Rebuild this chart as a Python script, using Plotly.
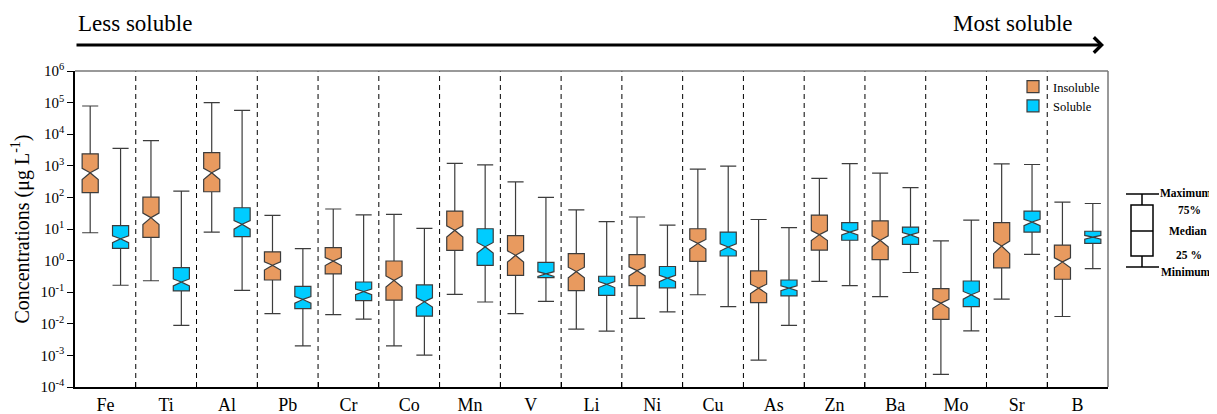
import numpy as np
import plotly.graph_objects as go

# ---------------- data (µg L-1) ----------------
elements = ["Fe", "Ti", "Al", "Pb", "Cr", "Co", "Mn", "V", "Li", "Ni",
            "Cu", "As", "Zn", "Ba", "Mo", "Sr", "B"]

ins_max = [7.8e4, 6300, 1.0e5, 27, 43, 29, 1200, 310, 40, 24,
           790, 20, 400, 590, 4.2, 1150, 71]
ins_q3 = [2400, 102, 2630, 1.9, 2.57, 0.97, 37, 6.2, 1.66, 1.55,
          10.2, 0.47, 27.5, 18.2, 0.129, 15.8, 3.1]
ins_med = [600, 22.9, 600, 0.71, 0.97, 0.237, 9.1, 1.47, 0.45, 0.48,
           3.5, 0.135, 6.6, 4.4, 0.045, 2.9, 0.91]
ins_q1 = [141, 5.4, 151, 0.243, 0.38, 0.056, 2.11, 0.34, 0.112, 0.162,
          0.95, 0.047, 2.16, 1.07, 0.0138, 0.59, 0.257]
ins_min = [7.6, 0.23, 8.0, 0.021, 0.0195, 0.0020, 0.085, 0.021, 0.0068, 0.0148,
           0.083, 0.00071, 0.22, 0.072, 0.00025, 0.060, 0.017]

sol_max = [3550, 158, 5.7e4, 2.4, 28, 10.5, 1070, 100, 17, 13.2,
           980, 11, 1170, 204, 19, 1100, 64]
sol_q3 = [12.7, 0.60, 47, 0.153, 0.21, 0.17, 10.2, 0.88, 0.32, 0.65,
          8.0, 0.243, 15.8, 11.5, 0.226, 37, 8.5]
sol_med = [4.9, 0.21, 14.1, 0.059, 0.105, 0.050, 2.75, 0.38, 0.178, 0.28,
           2.7, 0.135, 8.0, 6.5, 0.083, 16.6, 5.5]
sol_q1 = [2.44, 0.11, 5.7, 0.030, 0.054, 0.0174, 0.71, 0.29, 0.079, 0.138,
          1.4, 0.076, 4.4, 3.27, 0.035, 8.0, 3.5]
sol_min = [0.166, 0.0089, 0.115, 0.0020, 0.0141, 0.00102, 0.049, 0.051, 0.0059, 0.024,
           0.035, 0.0089, 0.162, 0.42, 0.0060, 1.58, 0.56]

y_exponents = list(range(-4, 7))
y_ticktext = ["10<sup>%d</sup>" % k for k in y_exponents]

# ---------------- styling ----------------
SERIF = "Liberation Serif, Times New Roman, serif"
C_INS = "#E89A5F"
C_SOL = "#00CCFF"
EDGE = "#3c3c3c"

OFF = 8                      # page body margin in the browser
W, H = 1217 - OFF, 414 - OFF
# plot area in window pixels: x 75..1108, y 71..387
L, R, T, B = 75 - OFF, 1217 - 1108, 71 - OFF, 414 - 387
PW, PH = W - L - R, H - T - B


def px(x):      # window pixel -> paper x
    return (x - OFF - L) / PW


def py(y):      # window pixel -> paper y
    return (H - B - (y - OFF)) / PH


def notch(q1, med, q3):
    q1, med, q3 = map(np.asarray, (q1, med, q3))
    h = 0.17 * (np.log10(q3) - np.log10(q1))
    return [float(v) for v in med * (1 - 10 ** (-h))]


fig = go.Figure()
for name, col, mx, q3, md, q1, mn in [
    ("Insoluble", C_INS, ins_max, ins_q3, ins_med, ins_q1, ins_min),
    ("Soluble", C_SOL, sol_max, sol_q3, sol_med, sol_q1, sol_min),
]:
    fig.add_trace(go.Box(
        name=name, x=elements, q1=q1, median=md, q3=q3,
        lowerfence=mn, upperfence=mx, notchspan=notch(q1, md, q3),
        notched=True, notchwidth=0.5, boxpoints=False,
        fillcolor=col, line=dict(color=EDGE, width=1.2),
        whiskerwidth=1, hoverinfo="skip",
    ))

shapes = []
# dashed separators
for i in range(len(elements) - 1):
    shapes.append(dict(type="line", xref="x", yref="paper", x0=i + 0.5, x1=i + 0.5,
                       y0=0, y1=1, line=dict(color="black", width=1, dash="5px,4px")))
# top / right frame (grey)
shapes.append(dict(type="line", xref="paper", yref="paper", x0=0, x1=1, y0=1, y1=1,
                   line=dict(color="#777777", width=1.5)))
shapes.append(dict(type="line", xref="paper", yref="paper", x0=1, x1=1, y0=0, y1=1,
                   line=dict(color="#777777", width=1.5)))

# key on the right
kl = dict(color="black", width=1.5)
shapes += [
    dict(type="rect", xref="paper", yref="paper", x0=px(1131), x1=px(1153),
         y0=py(256), y1=py(205), line=kl, fillcolor="white"),
    dict(type="line", xref="paper", yref="paper", x0=px(1131), x1=px(1153),
         y0=py(231), y1=py(231), line=kl),
    dict(type="line", xref="paper", yref="paper", x0=px(1142), x1=px(1142),
         y0=py(205), y1=py(194), line=kl),
    dict(type="line", xref="paper", yref="paper", x0=px(1142), x1=px(1142),
         y0=py(256), y1=py(267), line=kl),
    dict(type="line", xref="paper", yref="paper", x0=px(1126), x1=px(1159),
         y0=py(194), y1=py(194), line=kl),
    dict(type="line", xref="paper", yref="paper", x0=px(1126), x1=px(1159),
         y0=py(267), y1=py(267), line=kl),
]

annotations = [
    dict(text="Less soluble", xref="paper", yref="paper", x=px(76), y=py(23),
         xanchor="left", yanchor="middle", showarrow=False,
         font=dict(family=SERIF, size=23, color="black")),
    dict(text="Most soluble", xref="paper", yref="paper", x=px(1074), y=py(23),
         xanchor="right", yanchor="middle", showarrow=False,
         font=dict(family=SERIF, size=23, color="black")),
    dict(text="", xref="paper", yref="paper", x=px(1104), y=py(45),
         axref="pixel", ayref="pixel", ax=-(1104 - 75), ay=0,
         showarrow=True, arrowhead=4, arrowsize=1.0, arrowwidth=3,
         arrowcolor="black", standoff=0, startstandoff=0),
]
for t, x, y in [("Maximum", 1186, 193), ("75%", 1189, 210), ("Median", 1188, 231),
                ("25 %", 1189, 255), ("Minimum", 1186, 272)]:
    annotations.append(dict(text="<b>%s</b>" % t, xref="paper", yref="paper",
                            x=px(x), y=py(y), xanchor="center", yanchor="middle",
                            showarrow=False,
                            font=dict(family=SERIF, size=11.5, color="black")))

fig.update_layout(
    width=W, height=H, margin=dict(l=L, r=R, t=T, b=B, autoexpand=False),
    paper_bgcolor="white", plot_bgcolor="white",
    boxmode="group", boxgap=0, boxgroupgap=0.47,
    font=dict(family=SERIF, color="black"),
    shapes=shapes, annotations=annotations,
    legend=dict(x=px(1013), y=py(72), xanchor="left", yanchor="top",
                font=dict(family=SERIF, size=12.5), bgcolor="rgba(0,0,0,0)",
                itemwidth=30, tracegroupgap=0),
    showlegend=True,
)
fig.update_xaxes(
    type="category", categoryorder="array", categoryarray=elements,
    range=[-0.5, len(elements) - 0.5], automargin=False,
    showline=True, linecolor="black", linewidth=2,
    ticks="inside", tickson="boundaries", ticklen=5, tickcolor="black",
    tickfont=dict(family=SERIF, size=18), showgrid=False, zeroline=False,
)
fig.update_yaxes(
    type="log", range=[-4, 6], automargin=False,
    tickvals=[10.0 ** k for k in y_exponents], ticktext=y_ticktext,
    showline=True, linecolor="black", linewidth=1.5,
    ticks="outside", ticklen=6, tickcolor="black",
    tickfont=dict(family=SERIF, size=15), showgrid=False, zeroline=False,
    title=dict(text="Concentrations (μg L<sup>-1</sup>)",
               font=dict(family=SERIF, size=20), standoff=6),
)

fig.write_html("out.html")
